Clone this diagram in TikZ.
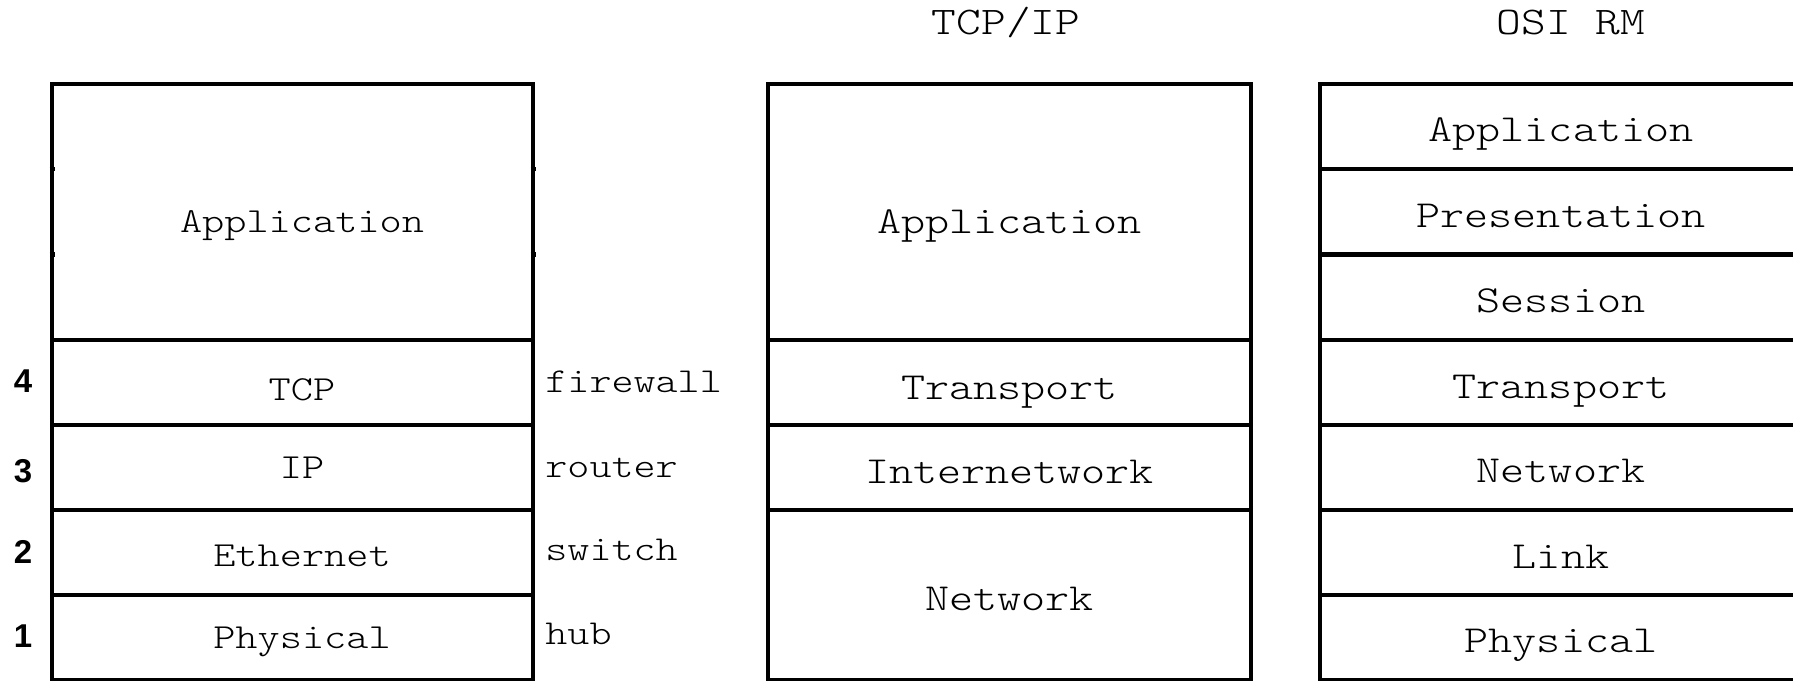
\documentclass[tikz,border=0pt]{standalone}
\usepackage{fontspec}
\newfontfamily\cour{lmmonolt10-regular.otf}[FakeStretch=1.2]
\newfontfamily\numfont{Liberation Sans}
\begin{document}
\begin{tikzpicture}[x=0.5pt,y=-0.5pt,
  layer/.style={draw, line width=2.1pt, inner sep=0pt, outer sep=0pt, anchor=north west},
  lw/.style={minimum width=240.5pt},
  mw/.style={minimum width=241.5pt},
  one/.style={minimum height=42.6pt},
  two/.style={minimum height=85.2pt},
  three/.style={minimum height=127.8pt},
  lt/.style={font=\cour\fontsize{17.6}{17.6}\selectfont, anchor=base, inner sep=0pt},
  rt/.style={font=\cour\fontsize{19.1}{19.1}\selectfont, anchor=base, inner sep=0pt},
  side/.style={font=\cour\fontsize{17.5}{17.5}\selectfont, anchor=base west, inner sep=0pt},
  title/.style={font=\cour\fontsize{19.6}{19.6}\selectfont, anchor=base, inner sep=0pt},
  num/.style={font=\numfont\bfseries\fontsize{16.5}{16.5}\selectfont, anchor=center, inner sep=0pt},
  tick/.style={line width=2.1pt}
]
\useasboundingbox (0,0) rectangle (1793,680);
\clip (0,0) rectangle (1793,680);

% ---------- left stack ----------
\node[layer, lw, three] (lapp) at (52,84) {};
\node[layer, lw, one] (ltcp) at (lapp.south west) {};
\node[layer, lw, one] (lip)  at (ltcp.south west) {};
\node[layer, lw, one] (leth) at (lip.south west) {};
\node[layer, lw, one] (lphy) at (leth.south west) {};
\draw[tick] (49.5,169.2) -- (54.5,169.2);
\draw[tick] (49.5,254.4) -- (54.5,254.4);
\draw[tick] (530.5,169.2) -- (535.5,169.2);
\draw[tick] (530.5,254.4) -- (535.5,254.4);

\node[lt] (lappt) at (302,232) {Application};
\node[lt] (ltcpt) at (302,400) {TCP};
\node[lt] (lipt)  at (302,478) {IP};
\node[lt] (letht) at (302,566.5) {Ethernet};
\node[lt] (lphyt) at (302,648) {Physical};

\node[num] (n4) at (23,381) {4};
\node[num] (n3) at (23,471) {3};
\node[num] (n2) at (23,552) {2};
\node[num] (n1) at (23,636) {1};

\node[side] (fw) at (545,392) {firewall};
\node[side] (rt) at (545,477) {router};
\node[side] (sw) at (545,560) {switch};
\node[side] (hb) at (545,644) {hub};

% ---------- TCP/IP stack ----------
\node[title] (ttcpip) at (1006,34) {TCP/IP};
\node[layer, mw, three] (mapp) at (768,84) {};
\node[layer, mw, one] (mtra) at (mapp.south west) {};
\node[layer, mw, one] (mint) at (mtra.south west) {};
\node[layer, mw, two] (mnet) at (mint.south west) {};
\node[rt] (mappt) at (1009.5,233) {Application};
\node[rt] (mtrat) at (1009.5,399) {Transport};
\node[rt] (mintt) at (1009.5,483) {Internetwork};
\node[rt] (mnett) at (1009.5,610) {Network};

% ---------- OSI RM stack ----------
\node[title] (tosi) at (1571,34) {OSI RM};
\node[layer, mw, one] (oapp) at (1320,84) {};
\node[layer, mw, one] (opre) at (oapp.south west) {};
\node[layer, mw, one] (oses) at (opre.south west) {};
\node[layer, mw, one] (otra) at (oses.south west) {};
\node[layer, mw, one] (onet) at (otra.south west) {};
\node[layer, mw, one] (olnk) at (onet.south west) {};
\node[layer, mw, one] (ophy) at (olnk.south west) {};
\node[rt] (oappt) at (1561,141.7) {Application};
\node[rt] (opret) at (1561,227.7) {Presentation};
\node[rt] (osest) at (1561,312) {Session};
\node[rt] (otrat) at (1561,398.3) {Transport};
\node[rt] (onett) at (1561,482) {Network};
\node[rt] (olnkt) at (1561,568) {Link};
\node[rt] (ophyt) at (1561,652.7) {Physical};
\end{tikzpicture}
\end{document}
